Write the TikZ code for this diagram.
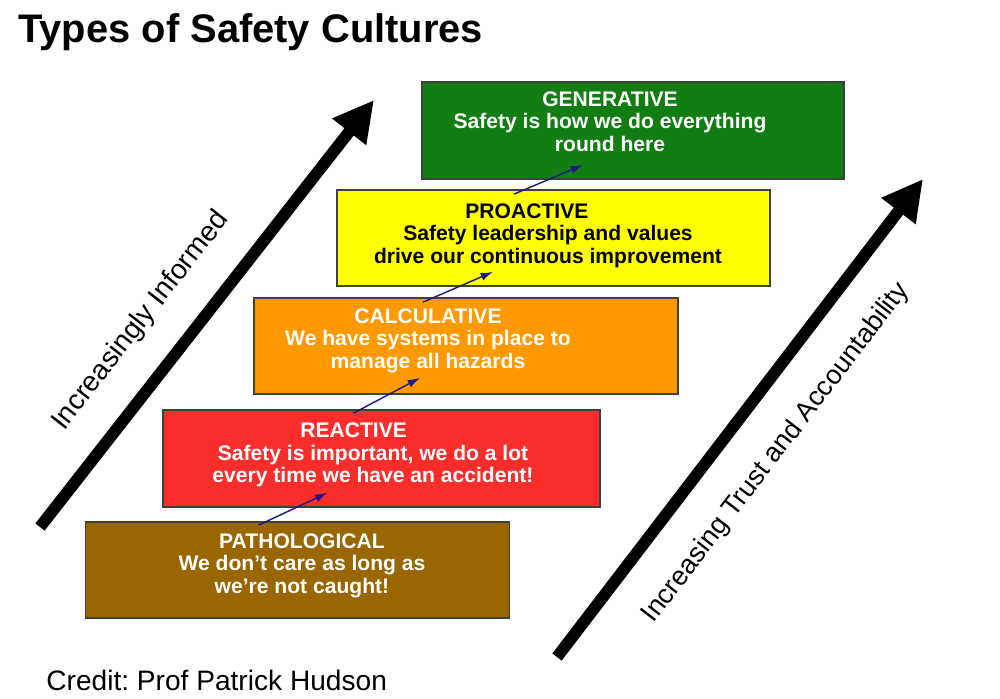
\documentclass[tikz,border=0pt]{standalone}
\usepackage{fontspec}
\setmainfont{Liberation Sans}
\usetikzlibrary{arrows.meta,calc}
\frenchspacing

\definecolor{gengreen}{RGB}{18,125,18}
\definecolor{proyellow}{RGB}{255,255,0}
\definecolor{calcorange}{RGB}{255,153,0}
\definecolor{reactred}{RGB}{250,45,45}
\definecolor{pathbrown}{RGB}{153,102,0}
\definecolor{linkblue}{RGB}{25,25,135}

\tikzset{
  level/.style={draw=black!75, line width=1pt, inner sep=0pt},
  leveltext/.style={anchor=north, align=center, inner sep=0pt, text=white,
    font=\fontsize{12}{12.8}\selectfont\bfseries},
  link/.style={linkblue, line width=0.8pt, -{Latex[length=7pt,width=4.5pt]}},
  bigarrow/.style={line width=6.7pt, -{Triangle[length=23pt,width=23pt]}},
  sidelabel/.style={font=\fontsize{16}{19}\selectfont, inner sep=0pt}
}

\begin{document}
\begin{tikzpicture}[x=0.02cm, y=-0.02cm]
    \useasboundingbox (0,0) rectangle (1000,698);
    \fill[white] (0,0) rectangle (1000,698);

    \node[anchor=base west, inner sep=0pt, font=\fontsize{22.7}{27}\selectfont\bfseries]
        (title) at (18,42) {Types of Safety Cultures};
    \node[anchor=base west, inner sep=0pt, font=\fontsize{16}{19}\selectfont]
        (credit) at (46,690) {Credit: Prof Patrick Hudson};

    % the five levels
    \node[level, fill=gengreen, minimum width=84.4mm, minimum height=19.4mm] (gen) at (633,130.5) {};
    \node[level, fill=proyellow, minimum width=86.6mm, minimum height=19.2mm] (pro) at (553.5,238) {};
    \node[level, fill=calcorange, minimum width=84.8mm, minimum height=19.2mm] (calc) at (466,346) {};
    \node[level, fill=reactred, minimum width=87.4mm, minimum height=19.4mm] (react) at (381.5,458.5) {};
    \node[level, fill=pathbrown, minimum width=84.8mm, minimum height=19.2mm] (path) at (297.5,570) {};

    \node[leveltext] (gen-txt) at (610,91) {GENERATIVE\\Safety is how we do everything\\round here};
    \node[leveltext, text=black] (pro-txt) at (548,203) {PROACTIVE\hspace*{24pt}\\Safety leadership and values\\drive our continuous improvement};
    \node[leveltext] (calc-txt) at (428,308) {CALCULATIVE\\We have systems in place to\\manage all hazards};
    \node[leveltext] (react-txt) at (373,422.5) {REACTIVE\hspace*{22pt}\\Safety is important, we do a lot\\every time we have an accident!};
    \node[leveltext] (path-txt) at (302,533) {PATHOLOGICAL\\We don't care as long as\\we're not caught!};

    \draw[link] ($(path.north)+(-39,4)$) -- ($(react.south)+(-54,-15)$);
    \draw[link] ($(react.north)+(-28,4)$) -- ($(calc.south)+(-46,-17)$);
    \draw[link] ($(calc.north)+(-43,5)$) -- ($(pro.south)+(-60.5,-15)$);
    \draw[link] ($(pro.north)+(-39.5,5)$) -- ($(gen.south)+(-50,-15)$);

    % side arrows
    \coordinate (inf-tail) at (40,527);
    \coordinate (inf-head) at (374,100);
    \coordinate (trust-tail) at (557,657);
    \coordinate (trust-head) at (923,179);
    \draw[bigarrow] (inf-tail) -- (inf-head);
    \draw[bigarrow] (trust-tail) -- (trust-head);
    \node[sidelabel, rotate=52] (informed) at (141,321) {Increasingly Informed};
    \node[sidelabel, rotate=52.5, font=\fontsize{15.4}{19}\selectfont] (trust) at (776,453) {Increasing Trust and Accountability};
\end{tikzpicture}
\end{document}
